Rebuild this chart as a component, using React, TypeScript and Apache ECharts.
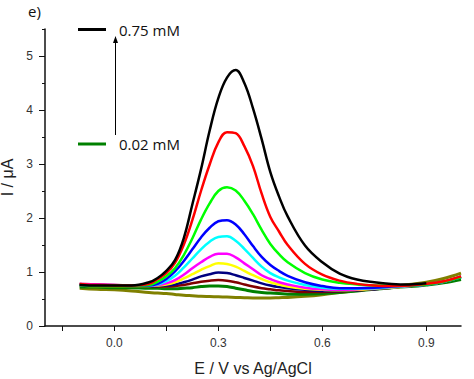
import React, { useEffect, useRef } from "react";
import * as echarts from "echarts";

// Potential grid (V vs Ag/AgCl)
const X = [-0.1, -0.05, 0, 0.05, 0.1, 0.125, 0.15, 0.175, 0.2, 0.225, 0.25, 0.275, 0.3, 0.325, 0.35, 0.375, 0.4, 0.425, 0.45, 0.475, 0.5, 0.55, 0.6, 0.65, 0.7, 0.75, 0.8, 0.85, 0.9, 0.95, 1.0];

// Current (µA) for each concentration
const olive = [0.70, 0.68, 0.67, 0.65, 0.62, 0.61, 0.60, 0.585, 0.57, 0.56, 0.55, 0.545, 0.54, 0.535, 0.53, 0.525, 0.52, 0.52, 0.52, 0.525, 0.53, 0.55, 0.58, 0.62, 0.66, 0.70, 0.73, 0.77, 0.81, 0.88, 0.98];
const darkGreen = [0.72, 0.72, 0.71, 0.71, 0.70, 0.70, 0.69, 0.69, 0.70, 0.71, 0.73, 0.74, 0.74, 0.73, 0.70, 0.67, 0.64, 0.62, 0.61, 0.60, 0.59, 0.59, 0.60, 0.62, 0.65, 0.68, 0.71, 0.73, 0.76, 0.80, 0.86];
const maroon = [0.78, 0.77, 0.76, 0.75, 0.74, 0.73, 0.73, 0.74, 0.76, 0.79, 0.82, 0.84, 0.85, 0.84, 0.81, 0.77, 0.73, 0.70, 0.68, 0.66, 0.65, 0.63, 0.63, 0.64, 0.66, 0.68, 0.71, 0.74, 0.77, 0.82, 0.91];
const navy = [0.76, 0.75, 0.75, 0.74, 0.74, 0.74, 0.75, 0.77, 0.81, 0.86, 0.92, 0.96, 0.99, 0.98, 0.94, 0.89, 0.84, 0.79, 0.75, 0.72, 0.70, 0.67, 0.65, 0.65, 0.66, 0.68, 0.71, 0.74, 0.77, 0.82, 0.92];
const yellow = [0.75, 0.74, 0.74, 0.74, 0.74, 0.75, 0.77, 0.81, 0.88, 0.96, 1.04, 1.11, 1.16, 1.15, 1.10, 1.02, 0.94, 0.87, 0.81, 0.77, 0.73, 0.69, 0.67, 0.66, 0.67, 0.69, 0.71, 0.74, 0.77, 0.82, 0.91];
const magenta = [0.78, 0.77, 0.76, 0.75, 0.75, 0.76, 0.79, 0.85, 0.95, 1.07, 1.18, 1.28, 1.34, 1.34, 1.27, 1.16, 1.05, 0.94, 0.87, 0.81, 0.77, 0.71, 0.68, 0.67, 0.68, 0.70, 0.72, 0.74, 0.77, 0.82, 0.91];
const cyan = [0.76, 0.75, 0.75, 0.75, 0.75, 0.77, 0.83, 0.93, 1.08, 1.25, 1.42, 1.56, 1.65, 1.66, 1.58, 1.43, 1.26, 1.10, 0.98, 0.90, 0.84, 0.76, 0.71, 0.69, 0.69, 0.70, 0.72, 0.74, 0.77, 0.82, 0.90];
const blue = [0.76, 0.75, 0.75, 0.75, 0.75, 0.78, 0.87, 1.01, 1.20, 1.42, 1.64, 1.82, 1.94, 1.96, 1.88, 1.70, 1.48, 1.28, 1.13, 1.02, 0.93, 0.81, 0.74, 0.70, 0.70, 0.71, 0.73, 0.75, 0.77, 0.82, 0.90];
const lime = [0.76, 0.75, 0.75, 0.75, 0.76, 0.82, 0.92, 1.07, 1.31, 1.62, 1.97, 2.27, 2.50, 2.57, 2.51, 2.32, 2.07, 1.78, 1.52, 1.33, 1.18, 0.98, 0.86, 0.80, 0.77, 0.75, 0.75, 0.75, 0.77, 0.82, 0.90];
const red = [0.78, 0.76, 0.75, 0.75, 0.78, 0.87, 0.98, 1.17, 1.50, 1.96, 2.50, 2.99, 3.40, 3.59, 3.57, 3.33, 2.96, 2.45, 2.02, 1.75, 1.50, 1.15, 0.95, 0.84, 0.78, 0.75, 0.74, 0.75, 0.78, 0.83, 0.92];
const black = [0.76, 0.75, 0.75, 0.75, 0.81, 0.89, 1.02, 1.22, 1.62, 2.25, 2.90, 3.62, 4.22, 4.60, 4.74, 4.50, 4.03, 3.46, 2.85, 2.40, 2.03, 1.49, 1.18, 0.97, 0.86, 0.81, 0.78, 0.77, 0.79, null, null];

const seriesDefs: { name: string; color: string; width: number; data: (number | null)[] }[] = [
  { name: "background", color: "#808000", width: 3, data: olive },
  { name: "0.02 mM", color: "#008000", width: 3, data: darkGreen },
  { name: "c2", color: "#800000", width: 2.5, data: maroon },
  { name: "c3", color: "#000080", width: 2.5, data: navy },
  { name: "c4", color: "#ffff00", width: 2.5, data: yellow },
  { name: "c5", color: "#ff00ff", width: 2.5, data: magenta },
  { name: "c6", color: "#00ffff", width: 2.5, data: cyan },
  { name: "c7", color: "#0000ff", width: 2.5, data: blue },
  { name: "c8", color: "#00ff00", width: 2.5, data: lime },
  { name: "c9", color: "#ff0000", width: 2.5, data: red },
  { name: "0.75 mM", color: "#000000", width: 2.5, data: black },
];

const xTicks = [-0.15, 0, 0.15, 0.3, 0.45, 0.6, 0.75, 0.9];
const xLabels = [0, 0.3, 0.6, 0.9];
const yLabels = [0, 1, 2, 3, 4, 5];
const yMinor = [0.5, 1.5, 2.5, 3.5, 4.5, 5.5];

const FONT = "Liberation Sans";

export default function App() {
  const ref = useRef<HTMLDivElement>(null);
  useEffect(() => {
    if (!ref.current) return;
    const chart = echarts.init(ref.current, null, { renderer: "svg" });
    const series = seriesDefs.map((s) => ({
      type: "line",
      name: s.name,
      data: X.map((x, i) => [x, s.data[i]]).filter((p) => p[1] !== null),
      showSymbol: false,
      smooth: 0.4,
      lineStyle: { color: s.color, width: s.width },
      itemStyle: { color: s.color },
      silent: true,
    }));
    chart.setOption({
      animation: false,
      backgroundColor: "#ffffff",
      grid: { left: 45, right: 13, top: 29, bottom: 53, containLabel: false, outerBoundsMode: "none" },
      xAxis: {
        type: "value",
        min: -0.2,
        max: 1.0,
        splitLine: { show: false },
        axisLine: { show: true, onZero: false, lineStyle: { color: "#111", width: 1.5 } },
        axisTick: { show: true, customValues: xTicks, length: 5, lineStyle: { color: "#111", width: 1 } },
        axisLabel: {
          customValues: xLabels,
          formatter: (v: number) => v.toFixed(1),
          fontSize: 12,
          color: "#333",
          fontFamily: FONT,
          margin: 11,
        },
        name: "E / V vs Ag/AgCl",
        nameLocation: "middle",
        nameGap: 34,
        nameTextStyle: { fontSize: 16, color: "#222", fontFamily: FONT },
      },
      yAxis: [
        {
          type: "value",
          min: 0,
          max: 5.5,
          position: "left",
          splitLine: { show: false },
          axisLine: { show: true, onZero: false, lineStyle: { color: "#111", width: 1.5 } },
          axisTick: { show: true, customValues: yLabels, length: 6, lineStyle: { color: "#111", width: 1 } },
          axisLabel: {
            customValues: yLabels,
            formatter: (v: number) => String(v),
            fontSize: 12,
            color: "#333",
            fontFamily: FONT,
            margin: 12,
          },
          name: "I / \u03bcA",
          nameLocation: "middle",
          nameGap: 27,
          nameTextStyle: { fontSize: 16, color: "#222", fontFamily: FONT },
        },
        {
          type: "value",
          min: 0,
          max: 5.5,
          position: "left",
          offset: 0,
          splitLine: { show: false },
          axisLine: { show: false, onZero: false },
          axisTick: { show: true, customValues: yMinor, length: 3, lineStyle: { color: "#111", width: 1 } },
          axisLabel: { show: false },
        },
      ],
      series,
      graphic: [
        {
          type: "text",
          left: 28,
          top: 3,
          style: { text: "e)", font: '15px "Open Sans"', fill: "#111" },
        },
        { type: "line", shape: { x1: 78, y1: 29.5, x2: 106, y2: 29.5 }, style: { stroke: "#000", lineWidth: 3 } },
        {
          type: "text",
          x: 119,
          y: 30,
          style: { text: "0.75 mM", font: '15px "Open Sans"', fill: "#111", verticalAlign: "middle" },
        },
        { type: "line", shape: { x1: 78, y1: 144, x2: 106, y2: 144 }, style: { stroke: "#008000", lineWidth: 3 } },
        {
          type: "text",
          x: 119,
          y: 144,
          style: { text: "0.02 mM", font: '15px "Open Sans"', fill: "#111", verticalAlign: "middle" },
        },
        { type: "line", shape: { x1: 115.5, y1: 135, x2: 115.5, y2: 42 }, style: { stroke: "#000", lineWidth: 1 } },
        { type: "polygon", shape: { points: [[113, 43], [118, 43], [115.5, 36]] }, style: { fill: "#000" } },
      ],
    });
    return () => chart.dispose();
  }, []);
  return <div ref={ref} style={{ position: "fixed", left: 0, top: 0, width: 474, height: 379 }} />;
}
